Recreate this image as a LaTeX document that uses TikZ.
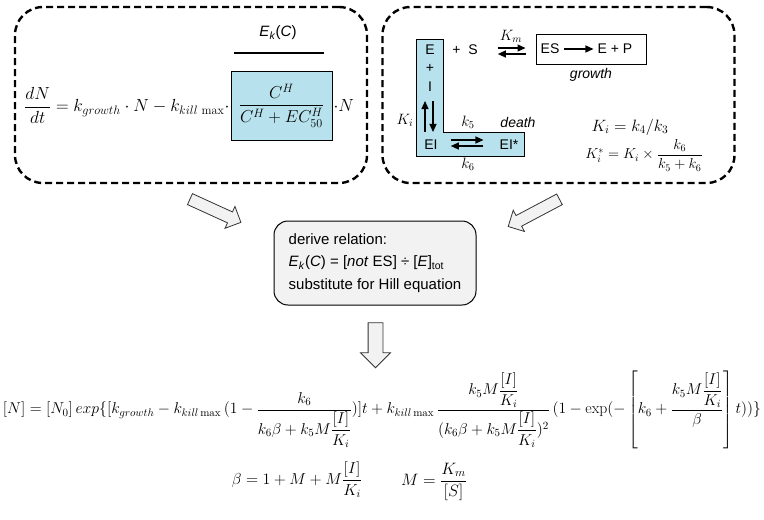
\documentclass[tikz,border=0pt]{standalone}
\usepackage{fix-cm}
\usepackage{amsmath}
\usepackage{fontspec}
\setsansfont{Liberation Sans}
\usetikzlibrary{shapes.arrows, arrows.meta, positioning}
\definecolor{hillblue}{RGB}{183,225,236}
\definecolor{notegray}{RGB}{242,242,242}
\tikzset{
  dashbox/.style={draw, line width=2.4pt, dash pattern=on 7pt off 4pt, rounded corners=28pt, minimum width=352pt, minimum height=176pt},
  blockarrow/.style={single arrow, draw=black!80, fill=notegray, line width=0.8pt, inner xsep=0pt, inner ysep=5.6pt, single arrow head extend=6pt},
  sflabel/.style={font=\sffamily\fontsize{14}{16}\selectfont, inner sep=1pt},
  sfit/.style={font=\sffamily\itshape\fontsize{14}{16}\selectfont, inner sep=1pt},
  mlabel/.style={font=\fontsize{15}{17}\selectfont, inner sep=1pt},
  eqarrow/.style={line width=1.2pt, -{Triangle[length=8pt,width=7pt]}},
}
\begin{document}
\begin{tikzpicture}[x=1pt, y=-1pt]
\useasboundingbox (0,0) rectangle (764,520);
% growth and kill model
\node[dashbox] (modelbox) at (191,95) {};
\node[draw, fill=hillblue, minimum width=101pt, minimum height=69pt, inner sep=0pt, line width=0.8pt, font=\fontsize{17.3}{20}\selectfont] (hill) at (281.5,105.5) {$\dfrac{C^{H}}{C^{H}+EC^{H}_{50}}$};
\node[anchor=east, inner sep=1pt, font=\fontsize{17.5}{20}\selectfont] (growtheq) at (hill.west) {$\dfrac{dN}{dt}=k_{growth}\cdot N-k_{kill\,\max}\cdot$};
\node[anchor=west, inner sep=1pt, font=\fontsize{17.5}{20}\selectfont] (hilln) at (hill.east) {$\cdot N$};
\node[font=\sffamily\fontsize{15}{17}\selectfont] (ekc) at (278,33) {\textit{E}\textsubscript{\textit{k}}(\textit{C})};
\draw[line width=1.5pt] (234,53) -- (324,53);
% enzyme scheme
\node[dashbox] (enzbox) at (558.5,95) {};
\draw[fill=hillblue, line width=0.8pt] (416,39) -- (443,39) -- (443,132) -- (524,132) -- (524,156) -- (416,156) -- cycle;
\node[sflabel] (e) at (430,50) {E};
\node[sflabel] (plus) at (430,68) {+};
\node[sflabel] (i) at (430,87) {I};
\node[sflabel] (plusS) at (465,50) {+\ \ S};
\node[draw, minimum width=110pt, minimum height=30pt, line width=1pt] (esbox) at (591,49) {};
\node[sflabel] (es) at (550,49) {ES};
\node[sflabel] (ep) at (615,49) {E + P};
\draw[eqarrow, shorten <=3pt, shorten >=3pt] (es) -- (ep);
\node[sfit] (growth) at (591,75) {growth};
\node[mlabel] (km) at (511,36) {$K_m$};
\draw[eqarrow, shorten <=19pt, shorten >=10pt] ([yshift=2pt]plusS.east) -- ([yshift=2pt]plusS.east -| esbox.west);
\draw[eqarrow, shorten <=10pt, shorten >=19pt] ([yshift=-4pt]plusS.east -| esbox.west) -- ([yshift=-4pt]plusS.east);
\node[sflabel] (ei) at (431,145) {EI};
\node[sflabel] (eistar) at (509,145) {EI*};
\draw[eqarrow, shorten <=7pt, shorten >=8pt] ([xshift=-6pt]ei.north) -- ([xshift=-6pt]ei.north |- i.south);
\draw[eqarrow, shorten <=8pt, shorten >=7pt] ([xshift=2pt]ei.north |- i.south) -- ([xshift=2pt]ei.north);
\draw[eqarrow, shorten <=12pt, shorten >=15pt] ([yshift=5pt]ei.east) -- ([yshift=5pt]ei.east -| eistar.west);
\draw[eqarrow, shorten <=15pt, shorten >=12pt] ([yshift=-1pt]ei.east -| eistar.west) -- ([yshift=-1pt]ei.east);
\node[mlabel] (ki) at (405,120) {$K_i$};
\node[mlabel] (k5) at (468,122) {$k_5$};
\node[sfit] (death) at (518,122) {death};
\node[mlabel] (k6) at (468,164) {$k_6$};
\node[mlabel, font=\fontsize{16.4}{18}\selectfont] (kieq) at (630,127) {$K_i = k_4 / k_3$};
\node[mlabel, font=\fontsize{14.5}{17}\selectfont] (kistar) at (644,155) {$K_i^{*} = K_i \times \dfrac{k_6}{k_5+k_6}$};
% derivation step
\node[blockarrow, minimum height=56pt, minimum width=23pt, rotate=-24.5] (arrleft) at (212.7,209.5) {};
\node[blockarrow, minimum height=58pt, minimum width=23pt, rotate=207.9] (arrright) at (536.5,211.5) {};
\node[draw, fill=notegray, rounded corners=14pt, minimum width=202pt, minimum height=84pt, align=left, line width=1pt, font=\sffamily\fontsize{15}{22.5}\selectfont] (derive) at (375,263) {derive relation:\\ \textit{E}\textsubscript{\textit{k}}(\textit{C}) = [\textit{not} ES] ÷ [\textit{E}]\textsubscript{tot}\\ substitute for Hill equation};
\node[blockarrow, minimum height=45pt, minimum width=29pt, inner ysep=7pt, single arrow head extend=7.5pt, rotate=-90] (arrdown) at (375.5,341.5) {};
% solution
\node[inner sep=0pt, font=\fontsize{15.7}{17}\selectfont] (soln) at (382,410) {$[N]=[N_0]\,exp\{[k_{growth}-k_{kill\max}\,(1-\dfrac{k_6}{k_6\beta+k_5M\dfrac{[I]}{K_i}})]t+k_{kill\max}\,\dfrac{k_5M\dfrac{[I]}{K_i}}{(k_6\beta+k_5M\dfrac{[I]}{K_i})^2}\,(1-\exp(-\left[k_6+\dfrac{k_5M\dfrac{[I]}{K_i}}{\beta}\right]t))\}$};
\node[inner sep=0pt, font=\fontsize{15.9}{17}\selectfont] (betaeq) at (297,480) {$\beta=1+M+M\dfrac{[I]}{K_i}$};
\node[inner sep=0pt, font=\fontsize{16.5}{19}\selectfont] (meq) at (434,482) {$M=\dfrac{K_m}{[S]}$};
\end{tikzpicture}
\end{document}
